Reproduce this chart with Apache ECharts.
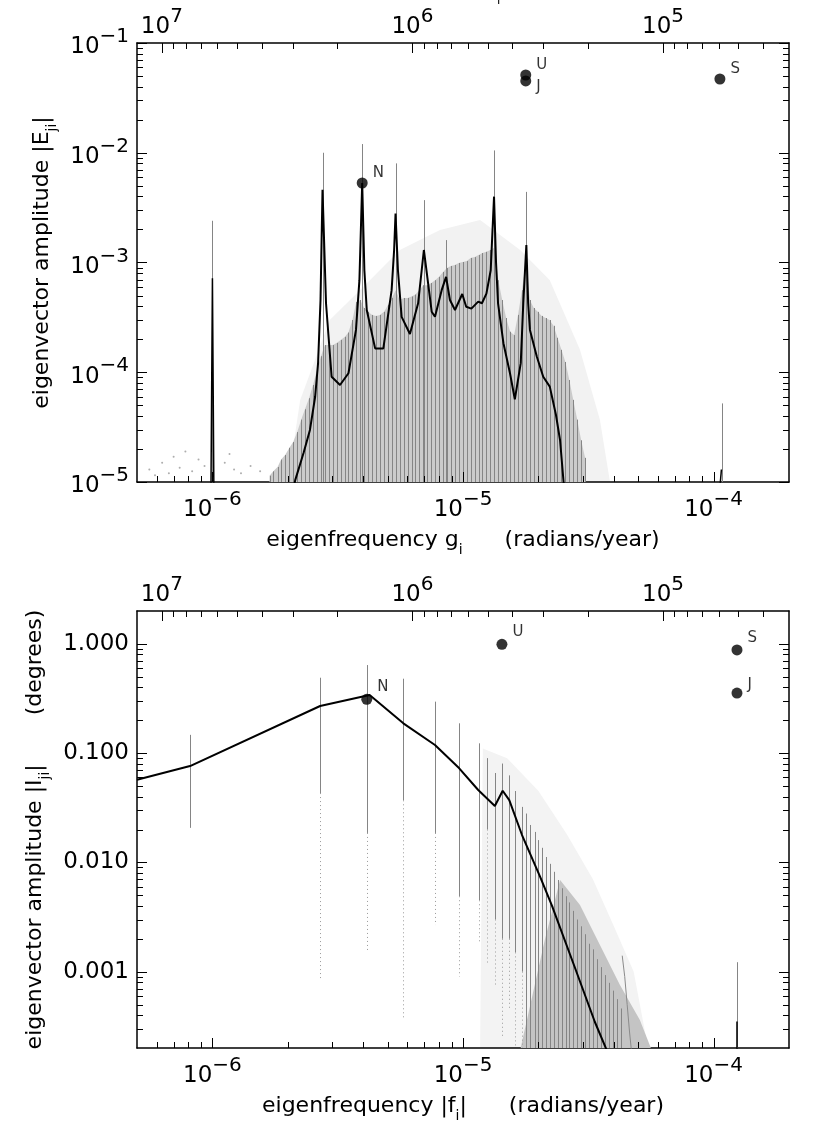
<!DOCTYPE html>
<html><head><meta charset="utf-8">
<script src="https://cdn.jsdelivr.net/npm/echarts@6/dist/echarts.min.js"></script>
<style>html,body{margin:0;padding:0;background:#fff}#c{width:830px;height:1138px}</style>
</head><body><div id="c"></div>
<script>
// ===================== DATA =====================
const FMIN = 5e-7, FMAX = 2e-4;           // eigenfrequency range (radians/year)
const TWO_PI = 2 * Math.PI;

// tick values
const freqMajorTicks = [1e-6, 1e-5, 1e-4];
const freqMinorTicks = [6e-7,7e-7,8e-7,9e-7,2e-6,3e-6,4e-6,5e-6,6e-6,7e-6,8e-6,9e-6,2e-5,3e-5,4e-5,5e-5,6e-5,7e-5,8e-5,9e-5];
const periodMajorTicks = [1e7, 1e6, 1e5];
const periodMinorTicks = [2e6,3e6,4e6,5e6,6e6,7e6,8e6,9e6,2e5,3e5,4e5,5e5,6e5,7e5,8e5,9e5,4e4,5e4,6e4,7e4,8e4,9e4];
const eMajorTicks = [1e-5,1e-4,1e-3,1e-2,1e-1];
const eMinorTicks = [2e-5,3e-5,4e-5,5e-5,6e-5,7e-5,8e-5,9e-5,2e-4,3e-4,4e-4,5e-4,6e-4,7e-4,8e-4,9e-4,2e-3,3e-3,4e-3,5e-3,6e-3,7e-3,8e-3,9e-3,2e-2,3e-2,4e-2,5e-2,6e-2,7e-2,8e-2,9e-2];
const iMajorTicks = [1e-3,1e-2,1e-1,1];
const iMinorTicks = [3e-4,4e-4,5e-4,6e-4,7e-4,8e-4,9e-4,2e-3,3e-3,4e-3,5e-3,6e-3,7e-3,8e-3,9e-3,2e-2,3e-2,4e-2,5e-2,6e-2,7e-2,8e-2,9e-2,0.2,0.3,0.4,0.5,0.6,0.7,0.8,0.9];

// ---- top panel (eccentricity, g_i) ----
const gColFreqMicro = [1.69,1.75,1.82,1.88,1.95,2.03,2.1,2.18,2.26,2.34,2.43,2.52,2.61,2.71,2.81,2.91,3.02,3.13,3.25,3.37,3.49,3.62,3.75,3.89,4.03,4.18,4.34,4.5,4.66,4.84,5.02,5.2,5.39,5.59,5.8,6.01,6.23,6.46,6.7,6.95,7.2,7.47,7.74,8.03,8.33,8.63,8.95,9.28,9.62,9.98,10.35,10.73,11.13,11.54,11.96,12.4,12.86,13.34,13.83,14.34,14.87,15.42,15.99,16.58,17.19,17.83,18.49,19.17,19.88,20.61,21.37,22.16,22.98,23.83,24.71,25.62,26.57,27.55,28.57,29.62,30.7];
const gColTop = [1.14e-5,1.25e-5,1.37e-5,1.6e-5,1.76e-5,2.05e-5,2.31e-5,2.85e-5,3.7e-5,4.6e-5,5.8e-5,7.65e-5,1.04e-4,1.4e-4,1.77e-4,1.77e-4,1.77e-4,1.85e-4,1.97e-4,2.1e-4,2.3e-4,2.99e-4,4.37e-4,4.55e-4,3.85e-4,3.55e-4,3.33e-4,3.26e-4,3.33e-4,3.55e-4,4.1e-4,4.75e-4,5.6e-4,4.55e-4,4.75e-4,4.75e-4,4.9e-4,5.1e-4,5.6e-4,6.2e-4,6.2e-4,6.5e-4,6.9e-4,7.4e-4,8.2e-4,8.9e-4,9.3e-4,9.5e-4,9.9e-4,1.01e-3,1.03e-3,1.1e-3,1.12e-3,1.17e-3,1.22e-3,1.25e-3,1.3e-3,1.36e-3,6.9e-4,4.55e-4,3.12e-4,2.34e-4,2.18e-4,3.33e-4,5.6e-4,1.05e-3,4.55e-4,3.85e-4,3.55e-4,3.26e-4,3.12e-4,2.99e-4,2.65e-4,2.06e-4,1.6e-4,1.24e-4,8.5e-5,5.6e-5,3.7e-5,2.4e-5,1.66e-5];
const gSpikeFreq = [1.0e-6, 2.75e-6, 3.96e-6, 5.38e-6, 6.98e-6, 8.56e-6, 1.33e-5, 1.79e-5, 1.08e-4];
const gSpikeTop  = [2.4e-3, 1.0e-2, 1.2e-2, 8.0e-3, 3.7e-3, 1.6e-3, 1.05e-2, 4.4e-3, 5.2e-5];
// sparse dot haze above the columns
const gHazeFreq = [2.0e-6,2.24e-6,2.94e-6,3.88e-6,5.6e-6,8.09e-6,1.17e-5,1.69e-5,2.22e-5,2.93e-5,3.52e-5,3.86e-5];
const gHazeAmp  = [1e-5,5.6e-5,2.99e-4,5.6e-4,1.3e-3,1.98e-3,2.44e-3,1.3e-3,6.9e-4,1.6e-4,3.67e-5,1e-5];
// sparse low dots at left
const gDotFreq = [5.6e-7,5.9e-7,6.3e-7,6.7e-7,7.0e-7,7.4e-7,7.8e-7,8.3e-7,8.8e-7,9.3e-7,1.12e-6,1.17e-6,1.22e-6,1.3e-6,1.42e-6,1.55e-6];
const gDotAmp  = [1.3e-5,1.15e-5,1.5e-5,1.2e-5,1.7e-5,1.35e-5,1.9e-5,1.25e-5,1.6e-5,1.4e-5,1.5e-5,1.8e-5,1.3e-5,1.2e-5,1.4e-5,1.25e-5];
// black curve
const gLineFreq = [2.0e-6,2.14e-6,2.31e-6,2.45e-6,2.57e-6,2.64e-6,2.70e-6,2.75e-6,2.84e-6,2.99e-6,3.23e-6,3.49e-6,3.74e-6,3.86e-6,3.96e-6,4.04e-6,4.13e-6,4.46e-6,4.81e-6,5.19e-6,5.31e-6,5.38e-6,5.5e-6,5.69e-6,6.14e-6,6.62e-6,6.98e-6,7.5e-6,7.73e-6,8.22e-6,8.56e-6,8.87e-6,9.29e-6,9.93e-6,1.03e-5,1.08e-5,1.15e-5,1.19e-5,1.24e-5,1.29e-5,1.33e-5,1.355e-5,1.38e-5,1.45e-5,1.54e-5,1.61e-5,1.70e-5,1.74e-5,1.79e-5,1.82e-5,1.85e-5,1.97e-5,2.09e-5,2.22e-5,2.35e-5,2.44e-5,2.52e-5,2.6e-5];
const gLineAmp  = [5e-6,1.04e-5,1.84e-5,2.98e-5,5.98e-5,1.21e-4,4.55e-4,4.6e-3,4.25e-4,9.1e-5,7.65e-5,9.8e-5,2.43e-4,6.9e-4,5.3e-3,8.5e-4,3.69e-4,1.65e-4,1.65e-4,5.6e-4,1.3e-3,2.8e-3,8.5e-4,3.2e-4,2.23e-4,4.25e-4,1.3e-3,3.56e-4,3.2e-4,5.6e-4,7.4e-4,4.55e-4,3.69e-4,5.16e-4,3.95e-4,3.8e-4,4.4e-4,4.25e-4,5.2e-4,8.5e-4,3.98e-3,9.9e-4,4.25e-4,1.84e-4,9.8e-5,5.67e-5,1.21e-4,4.25e-4,1.44e-3,4.25e-4,2.43e-4,1.39e-4,9.1e-5,7.4e-5,4.08e-5,2.4e-5,1.0e-5,5e-6];
const gSpikeLineFreq = [0.985e-6, 1.0e-6, 1.015e-6];
const gSpikeLineAmp  = [5e-6, 7.2e-4, 5e-6];
const gTailLineFreq = [1.055e-4, 1.075e-4];
const gTailLineAmp  = [8e-6, 1.3e-5];
const gPlanetName = ['N','U','J','S'];
const gPlanetFreq = [3.96e-6, 1.78e-5, 1.78e-5, 1.06e-4];
const gPlanetAmp  = [5.3e-3, 0.0511, 0.0451, 0.047];

// ---- bottom panel (inclination, f_i) ----
const fColFreq    = [8.14e-7,2.69e-6,4.13e-6,5.78e-6,7.73e-6,9.66e-6,1.16e-5,1.25e-5,1.34e-5,1.43e-5,1.53e-5,1.62e-5,1.72e-5,1.79e-5,1.85e-5,1.93e-5,2.0e-5,2.07e-5,2.15e-5,2.22e-5,2.31e-5,2.39e-5,2.48e-5,2.57e-5,2.66e-5,2.76e-5,2.86e-5,2.97e-5,3.08e-5,3.19e-5,3.31e-5,3.43e-5,3.56e-5,3.69e-5,3.82e-5,3.96e-5,4.11e-5,4.26e-5,1.24e-4];
const fColTop     = [0.147,0.49,0.64,0.48,0.296,0.1875,0.123,0.09,0.0658,0.0803,0.0626,0.045,0.0322,0.028,0.022,0.019,0.016,0.0136,0.0112,0.0097,0.0082,0.0069,0.0058,0.0049,0.0043,0.0036,0.003,0.0026,0.0022,0.0018,0.0016,0.0013,0.0011,9.3e-4,7.9e-4,6.7e-4,5.6e-4,4.6e-4,1.22e-3];
const fColSolidLo = [0.0207,0.0431,0.0186,0.037,0.0186,4.9e-3,4.5e-3,0.02,3e-3,2e-3,2e-3,1.5e-3,1e-3,2e-4,2e-4,2e-4,2e-4,2e-4,2e-4,2e-4,2e-4,2e-4,2e-4,2e-4,2e-4,2e-4,2e-4,2e-4,2e-4,2e-4,2e-4,2e-4,2e-4,2e-4,2e-4,2e-4,2e-4,2e-4,2e-4];
const fColLo      = [0.0207,8.7e-4,1.5e-3,3.6e-4,2.67e-3,9e-4,1.84e-3,1.2e-3,7.2e-4,2.5e-4,4.6e-4,2e-4,2e-4,2e-4,2e-4,2e-4,2e-4,2e-4,2e-4,2e-4,2e-4,2e-4,2e-4,2e-4,2e-4,2e-4,2e-4,2e-4,2e-4,2e-4,2e-4,2e-4,2e-4,2e-4,2e-4,2e-4,2e-4,2e-4,2e-4];
// dense dot wedge near the cutoff
const fWedgeFreq = [1.69e-5,2.12e-5,2.44e-5,2.93e-5,3.52e-5,4.23e-5,5.08e-5,5.67e-5];
const fWedgeAmp  = [1.9e-4,1.95e-3,6.9e-3,4.07e-3,1.75e-3,7.55e-4,3.6e-4,1.9e-4];
// faint light haze of dots above
const fHazeFreq = [1.17e-5,1.2e-5,1.5e-5,2.0e-5,2.6e-5,3.3e-5,4.0e-5,4.8e-5,5.5e-5];
const fHazeAmp  = [1.9e-4,0.11,0.09,0.045,0.018,7e-3,2.6e-3,1.0e-3,1.9e-4];
// thin grey curve near 4.4e-5
const fCurveFreq = [4.32e-5,4.42e-5,4.52e-5,4.62e-5,4.7e-5];
const fCurveAmp  = [1.4e-3,9e-4,5e-4,2.8e-4,1.9e-4];
const fLineFreq = [5e-7,8.14e-7,2.69e-6,4.24e-6,5.78e-6,7.73e-6,9.66e-6,1.15e-5,1.34e-5,1.44e-5,1.53e-5,1.72e-5,2.03e-5,2.26e-5,2.8e-5,3.36e-5,3.75e-5];
const fLineAmp  = [0.057,0.0762,0.27,0.34,0.1875,0.1187,0.0726,0.046,0.0328,0.0453,0.0372,0.0178,7.4e-3,4.07e-3,1.08e-3,3.46e-4,1.9e-4];
const fTailLineFreq = [1.24e-4, 1.24e-4];
const fTailLineAmp  = [1.5e-4, 3.5e-4];
const fPlanetName = ['N','U','S','J'];
const fPlanetFreq = [4.13e-6, 1.43e-5, 1.24e-4, 1.24e-4];
const fPlanetAmp  = [0.311, 0.99, 0.88, 0.355];

// ===================== RENDER =====================
const FONT = 'DejaVu Sans';
const chart = echarts.init(document.getElementById('c'), null, {renderer: 'canvas'});

function isPow10(v){ const e = Math.log10(v); return Math.abs(e - Math.round(e)) < 1e-6; }
function pow10Label(v){
  if (!isPow10(v)) return '';
  const r = Math.round(Math.log10(v));
  return '{b|10}{s|' + (r < 0 ? '\u2212' + (-r) : r) + '}';
}
function fixedLabel(v){ return isPow10(v) ? v.toFixed(3) : ''; }
const supRich = {
  b: {fontSize: 23, fontFamily: FONT, color: '#000', verticalAlign: 'bottom'},
  s: {fontSize: 20, fontFamily: FONT, color: '#000', verticalAlign: 'bottom', padding: [0, 0, 12, 0]}
};
const nameRich = {
  t: {fontSize: 22, fontFamily: FONT, color: '#000', verticalAlign: 'top'},
  sub: {fontSize: 14, fontFamily: FONT, color: '#000', verticalAlign: 'top', padding: [14, 0, 0, 0]}
};
const axisLine = {show: true, lineStyle: {color: '#000', width: 1.5}};

function freqAxis(grid, name){
  return {gridIndex: grid, type: 'log', min: FMIN, max: FMAX, position: 'bottom',
    axisLine, axisTick: {show: false}, splitLine: {show: false},
    axisLabel: {formatter: pow10Label, rich: supRich, margin: 8, showMinLabel: false, showMaxLabel: false},
    name, nameLocation: 'middle', nameGap: 47, nameTextStyle: {rich: nameRich}};
}
function periodAxis(grid){
  return {gridIndex: grid, type: 'log', inverse: true, min: TWO_PI / FMAX, max: TWO_PI / FMIN, position: 'top',
    axisLine, axisTick: {show: false}, splitLine: {show: false},
    axisLabel: {formatter: pow10Label, rich: supRich, margin: 4, showMinLabel: false, showMaxLabel: false}};
}
function ampAxis(grid, min, max, fmt, name, pos){
  const a = {gridIndex: grid, type: 'log', min, max, position: pos,
    axisLine, axisTick: {show: false}, splitLine: {show: false},
    axisLabel: pos === 'left' ? {formatter: fmt, rich: supRich, margin: 8, fontSize: 23, fontFamily: FONT, color: '#000'} : {show: false}};
  if (name) Object.assign(a, {name, nameLocation: 'middle', nameGap: 74, nameRotate: 90, nameTextStyle: {rich: nameRich}});
  return a;
}

function xTickSeries(xi, yi, yRef, majors, minors, side){
  return {type: 'custom', xAxisIndex: xi, yAxisIndex: yi, z: 10, silent: true,
    data: majors.map(v => [v, yRef, 10]).concat(minors.map(v => [v, yRef, 6])),
    renderItem(params, api){
      const cs = params.coordSys;
      const x = Math.round(api.coord([api.value(0), api.value(1)])[0]) + 0.5;
      const len = api.value(2);
      const y0 = side === 'bottom' ? cs.y + cs.height : cs.y;
      const y1 = side === 'bottom' ? y0 - len : y0 + len;
      return {type: 'line', shape: {x1: x, y1: y0, x2: x, y2: y1}, style: {stroke: '#000', lineWidth: 1}};
    }};
}
function yTickSeries(xi, yi, xRef, majors, minors){
  return {type: 'custom', xAxisIndex: xi, yAxisIndex: yi, z: 10, silent: true,
    data: majors.map(v => [xRef, v, 10]).concat(minors.map(v => [xRef, v, 6])),
    renderItem(params, api){
      const cs = params.coordSys;
      const y = Math.round(api.coord([api.value(0), api.value(1)])[1]) + 0.5;
      const len = api.value(2);
      return {type: 'group', children: [
        {type: 'line', shape: {x1: cs.x, y1: y, x2: cs.x + len, y2: y}, style: {stroke: '#000', lineWidth: 1}},
        {type: 'line', shape: {x1: cs.x + cs.width, y1: y, x2: cs.x + cs.width - len, y2: y}, style: {stroke: '#000', lineWidth: 1}}
      ]};
    }};
}
// columns: [freq, lo, solidLo, top]
function columnSeries(xi, yi, data, color){
  return {type: 'custom', xAxisIndex: xi, yAxisIndex: yi, z: 2, silent: true, clip: true, data,
    renderItem(params, api){
      const f = api.value(0);
      const p2 = api.coord([f, api.value(1)]);
      const p1 = api.coord([f, api.value(2)]);
      const p0 = api.coord([f, api.value(3)]);
      const x = Math.round(p0[0]) + 0.5;
      const ch = [{type: 'line', shape: {x1: x, y1: p0[1], x2: x, y2: p1[1]}, style: {stroke: color, lineWidth: 1}}];
      if (p2[1] - p1[1] > 1) ch.push({type: 'line', shape: {x1: x, y1: p1[1], x2: x, y2: p2[1]}, style: {stroke: '#9a9a9a', lineWidth: 1, lineDash: [1, 3]}});
      return {type: 'group', children: ch};
    }};
}
function areaSeries(xi, yi, fs, as, color, z){
  return {type: 'line', xAxisIndex: xi, yAxisIndex: yi, z: z, silent: true, clip: true,
    showSymbol: false, symbol: 'none', lineStyle: {width: 0}, areaStyle: {color, opacity: 1, origin: 'start'},
    data: fs.map((f, i) => [f, as[i]])};
}
function lineSeries(xi, yi, fs, as, w, color){
  return {type: 'line', xAxisIndex: xi, yAxisIndex: yi, z: 3, silent: true, clip: true,
    showSymbol: false, symbol: 'none', lineStyle: {color: color || '#000', width: w || 2},
    data: fs.map((f, i) => [f, as[i]])};
}
function planetSeries(xi, yi, names, fs, as){
  return {type: 'scatter', xAxisIndex: xi, yAxisIndex: yi, z: 5, silent: true, symbolSize: 11,
    itemStyle: {color: '#000'},
    data: names.map((n, i) => ({name: n, value: [fs[i], as[i]],
      label: {show: true, formatter: '{b}', position: 'right', offset: [0, -10], fontSize: 15, fontFamily: FONT, color: '#000'}}))};
}

const gCols = gColFreqMicro.map((f, i) => [f * 1e-6, 1e-5, 1e-5, gColTop[i]])
  .concat(gSpikeFreq.map((f, i) => [f, 1e-5, 1e-5, gSpikeTop[i]]));
const fCols = fColFreq.map((f, i) => [f, fColLo[i], fColSolidLo[i], fColTop[i]]);

const option = {
  animation: false,
  backgroundColor: '#fff',
  textStyle: {fontFamily: FONT},
  grid: [
    {left: 137, right: 41, top: 43, height: 439},
    {left: 137, right: 41, top: 611, height: 437}
  ],
  xAxis: [
    freqAxis(0, '{t|eigenfrequency g}{sub|i}{t|      (radians/year)}'),
    periodAxis(0),
    freqAxis(1, '{t|eigenfrequency |f}{sub|i}{t||      (radians/year)}'),
    periodAxis(1)
  ],
  yAxis: [
    ampAxis(0, 1e-5, 0.1, pow10Label, '{t|eigenvector amplitude |E}{sub|ji}{t||}', 'left'),
    ampAxis(0, 1e-5, 0.1, null, null, 'right'),
    ampAxis(1, 2e-4, 2, fixedLabel, '{t|eigenvector amplitude |I}{sub|ji}{t||       (degrees)}', 'left'),
    ampAxis(1, 2e-4, 2, null, null, 'right')
  ],
  graphic: [
    {type: 'text', x: 320, y: -10, style: {text: 'precession period P', font: '18px "DejaVu Sans"', fill: '#000', verticalAlign: 'middle', textVerticalAlign: 'middle'}},
    {type: 'text', x: 497, y: 1, style: {text: 'i', font: '12px "DejaVu Sans"', fill: '#000', verticalAlign: 'middle', textVerticalAlign: 'middle'}},
    {type: 'text', x: 537, y: -10, style: {text: '(years)', font: '18px "DejaVu Sans"', fill: '#000', verticalAlign: 'middle', textVerticalAlign: 'middle'}}
  ],
  series: [
    areaSeries(0, 0, gHazeFreq, gHazeAmp, '#f2f2f2', 0),
    areaSeries(0, 0, gColFreqMicro.map(f => f * 1e-6), gColTop, '#cbcbcb', 1),
    columnSeries(0, 0, gCols, '#858585'),
    {type: 'scatter', xAxisIndex: 0, yAxisIndex: 0, z: 2, silent: true, symbolSize: 2, itemStyle: {color: '#999'},
      data: gDotFreq.map((f, i) => [f, gDotAmp[i]])},
    lineSeries(0, 0, gLineFreq, gLineAmp),
    lineSeries(0, 0, gSpikeLineFreq, gSpikeLineAmp, 1.5),
    lineSeries(0, 0, gTailLineFreq, gTailLineAmp, 1.5),
    planetSeries(0, 0, gPlanetName, gPlanetFreq, gPlanetAmp),
    xTickSeries(0, 0, 1e-3, freqMajorTicks, freqMinorTicks, 'bottom'),
    xTickSeries(1, 0, 1e-3, periodMajorTicks, periodMinorTicks, 'top'),
    yTickSeries(0, 0, 1e-5, eMajorTicks, eMinorTicks),

    areaSeries(2, 2, fHazeFreq, fHazeAmp, '#f3f3f3', 0),
    areaSeries(2, 2, fWedgeFreq, fWedgeAmp, '#c4c4c4', 1),
    columnSeries(2, 2, fCols, '#858585'),
    lineSeries(2, 2, fCurveFreq, fCurveAmp, 1, '#8a8a8a'),
    lineSeries(2, 2, fLineFreq, fLineAmp),
    lineSeries(2, 2, fTailLineFreq, fTailLineAmp, 1.5),
    planetSeries(2, 2, fPlanetName, fPlanetFreq, fPlanetAmp),
    xTickSeries(2, 2, 1e-2, freqMajorTicks, freqMinorTicks, 'bottom'),
    xTickSeries(3, 2, 1e-2, periodMajorTicks, periodMinorTicks, 'top'),
    yTickSeries(2, 2, 1e-5, iMajorTicks, iMinorTicks)
  ]
};
option.series[7].data.forEach(d => { if (d.name === 'J') d.label.offset = [0, 6]; });
option.series[17].data.forEach(d => { d.label.offset = d.name === 'J' ? [0, -8] : [0, -12]; });
chart.setOption(option);
</script>
</body></html>
